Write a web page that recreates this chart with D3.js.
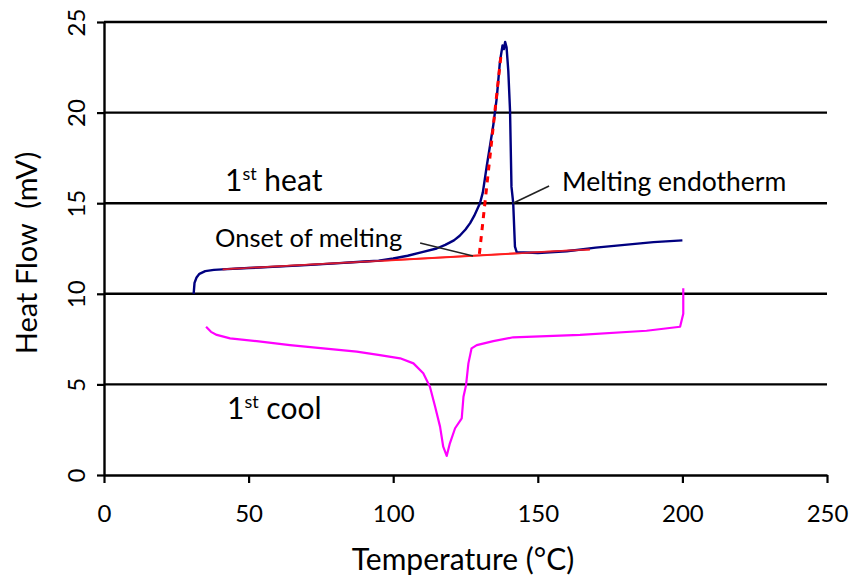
<!DOCTYPE html>
<html>
<head>
<meta charset="utf-8">
<script src="https://cdn.jsdelivr.net/npm/d3@7"></script>
<style>
  body { margin: 0; background: #fff; }
  svg { display: block; font-family: Lato, "Open Sans", sans-serif; }
</style>
</head>
<body>
<div id="chart"></div>
<script>
// Data
const xTicks = [0, 50, 100, 150, 200, 250];
const yTicks = [0, 5, 10, 15, 20, 25];

// 1st heat (navy)
const heatT = [31, 31.3, 32, 33, 35, 38, 41, 50, 60, 70, 80, 90, 95, 100, 105, 110, 115, 118, 121, 123, 125, 126.6, 128, 130, 131, 132.3, 133.5, 134.6, 135.8, 136.9, 137.8, 138.3, 138.7, 139.2, 139.8, 140.4, 140.9, 141.5, 142.1, 142.7, 150, 160, 170, 180, 190, 200];
const heatY = [10.0, 10.6, 10.9, 11.1, 11.25, 11.32, 11.35, 11.42, 11.5, 11.58, 11.68, 11.78, 11.83, 11.95, 12.1, 12.3, 12.5, 12.7, 12.95, 13.2, 13.55, 13.9, 14.3, 15.0, 15.6, 17.0, 18.2, 19.3, 20.8, 22.8, 23.7, 23.5, 23.9, 23.6, 22.3, 20.1, 15.9, 15.0, 12.6, 12.3, 12.25, 12.35, 12.55, 12.7, 12.85, 12.95];

// 1st cool (magenta)
const coolT = [35.3, 37, 39, 43.6, 52.8, 64.3, 75.8, 87.4, 95.4, 102.4, 107, 110.4, 112.7, 114.5, 116.2, 117.3, 118.5, 119.6, 121.4, 123.7, 124.3, 125.2, 126, 127.1, 128.9, 134.6, 141.5, 164.6, 187.6, 199.2, 200.3, 200.3];
const coolY = [8.18, 7.9, 7.73, 7.54, 7.39, 7.17, 6.99, 6.81, 6.62, 6.44, 6.16, 5.61, 4.87, 3.77, 2.67, 1.56, 1.05, 1.75, 2.58, 3.13, 4.32, 4.97, 6.16, 6.99, 7.17, 7.39, 7.6, 7.73, 7.96, 8.18, 8.9, 10.3];

// red baseline and dotted onset tangent
const baseT = [41, 168];
const baseY = [11.35, 12.45];
const tanT = [129.8, 137.3];
const tanY = [12.2, 23.2];

// annotation leader lines
const onsetLeaderT = [109.3, 127.6];
const onsetLeaderY = [12.8, 12.09];
const endoLeaderT = [141.4, 153.9];
const endoLeaderY = [15.0, 15.95];

const width = 854, height = 579;
const svg = d3.select("#chart").append("svg")
    .attr("width", width)
    .attr("height", height);

svg.append("rect").attr("width", width).attr("height", height).attr("fill", "#fff");

const x = d3.scaleLinear().domain([0, 250]).range([104, 827]);
const y = d3.scaleLinear().domain([0, 25]).range([475, 22]);

// gridlines
svg.append("g")
    .selectAll("line")
    .data(yTicks.filter(d => d > 0))
    .join("line")
    .attr("x1", x(0)).attr("x2", x(250))
    .attr("y1", d => y(d)).attr("y2", d => y(d))
    .attr("stroke", "#000")
    .attr("stroke-width", 2.4);

// x axis
const xAxis = svg.append("g")
    .attr("transform", `translate(0,${y(0)})`)
    .call(d3.axisBottom(x).tickValues(xTicks).tickSize(8).tickPadding(22).tickSizeOuter(0));
xAxis.select(".domain").attr("stroke-width", 2.4);
xAxis.selectAll(".tick line").attr("stroke-width", 2.2);
xAxis.selectAll("text").attr("font-size", 24).attr("font-family", "Lato").attr("fill", "#000");

// y axis, labels rotated
const yAxis = svg.append("g")
    .attr("transform", `translate(${x(0)},0)`)
    .call(d3.axisLeft(y).tickValues(yTicks).tickSize(7).tickSizeOuter(0));
yAxis.select(".domain").attr("stroke-width", 2.4);
yAxis.selectAll(".tick line").attr("stroke-width", 2.2);
yAxis.selectAll(".tick text")
    .attr("font-size", 24).attr("font-family", "Lato").attr("fill", "#000")
    .attr("text-anchor", "middle")
    .attr("x", 0).attr("y", 0).attr("dy", 0)
    .attr("transform", "translate(-19,0) rotate(-90)");

// axis titles
svg.append("text")
    .attr("x", 463).attr("y", 570)
    .attr("text-anchor", "middle")
    .attr("font-size", 30)
    .text("Temperature (°C)");

svg.append("text")
    .attr("transform", "translate(37,253) rotate(-90)")
    .attr("text-anchor", "middle")
    .attr("font-size", 29)
    .attr("xml:space", "preserve")
    .text("Heat Flow  (mV)");

const line = d3.line().x(d => x(d[0])).y(d => y(d[1]));

// baseline (red)
svg.append("path")
    .datum(d3.zip(baseT, baseY))
    .attr("d", line)
    .attr("fill", "none")
    .attr("stroke", "#ff2020")
    .attr("stroke-width", 2);

// heat curve
svg.append("path")
    .datum(d3.zip(heatT, heatY))
    .attr("d", line)
    .attr("fill", "none")
    .attr("stroke", "#000080")
    .attr("stroke-width", 2.4)
    .attr("stroke-linejoin", "round");

// red baseline again on top, thinner
svg.append("path")
    .datum(d3.zip(baseT, baseY))
    .attr("d", line)
    .attr("fill", "none")
    .attr("stroke", "#ff2020")
    .attr("stroke-width", 1.6)
    .attr("stroke-opacity", 0.85);

// dotted tangent
svg.append("path")
    .datum(d3.zip(tanT, tanY))
    .attr("d", line)
    .attr("fill", "none")
    .attr("stroke", "#ff0000")
    .attr("stroke-width", 3)
    .attr("stroke-dasharray", "6,6");

// cool curve
svg.append("path")
    .datum(d3.zip(coolT, coolY))
    .attr("d", line)
    .attr("fill", "none")
    .attr("stroke", "#ff00ff")
    .attr("stroke-width", 2.2)
    .attr("stroke-linejoin", "round");

// leader lines
[[onsetLeaderT, onsetLeaderY], [endoLeaderT, endoLeaderY]].forEach(([t, v]) => {
    svg.append("path")
        .datum(d3.zip(t, v))
        .attr("d", line)
        .attr("fill", "none")
        .attr("stroke", "#222")
        .attr("stroke-width", 1.6);
});

// annotations
svg.append("text")
    .attr("x", 215).attr("y", 247)
    .attr("font-size", 25.5)
    .text("Onset of melting");

svg.append("text")
    .attr("x", 562).attr("y", 191)
    .attr("font-size", 26.5)
    .text("Melting endotherm");

function ordinalLabel(px, py, word) {
    const t = svg.append("text")
        .attr("x", px).attr("y", py)
        .attr("font-size", 30);
    t.append("tspan").text("1");
    t.append("tspan").attr("dy", -11).attr("font-size", 18).text("st");
    t.append("tspan").attr("dy", 11).text(" " + word);
}
ordinalLabel(225, 191, "heat");
ordinalLabel(227, 419, "cool");
</script>
</body>
</html>
